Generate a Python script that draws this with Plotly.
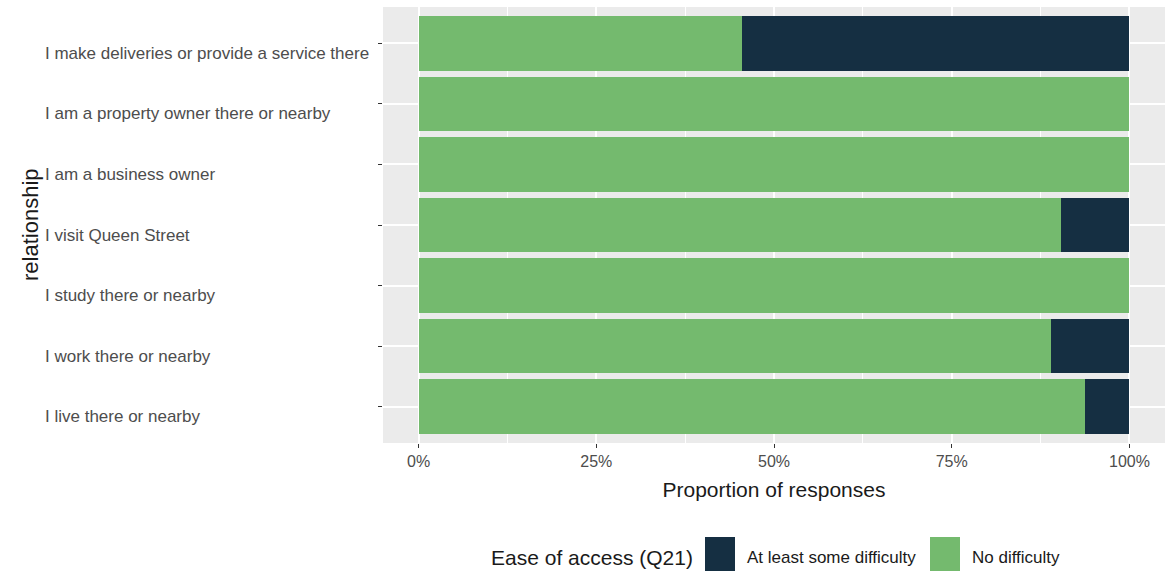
import plotly.graph_objects as go

categories = [
    "I live there or nearby",
    "I work there or nearby",
    "I study there or nearby",
    "I visit Queen Street",
    "I am a business owner",
    "I am a property owner there or nearby",
    "I make deliveries or provide a service there",
]
no_difficulty = [0.938, 0.889, 1.0, 0.903, 1.0, 1.0, 0.455]
some_difficulty = [0.062, 0.111, 0.0, 0.097, 0.0, 0.0, 0.545]
x_ticks = [0, 0.25, 0.5, 0.75, 1.0]
x_tick_labels = ["0%", "25%", "50%", "75%", "100%"]
legend_title = "Ease of access (Q21)"
series_names = ["At least some difficulty", "No difficulty"]

GREEN = "#74BA6E"
NAVY = "#152F42"
FONT = "Liberation Sans, Arial, sans-serif"

fig = go.Figure()
fig.add_trace(go.Bar(y=categories, x=no_difficulty, orientation="h", name=series_names[1],
                     marker=dict(color=GREEN, line=dict(width=0)), width=0.9, showlegend=False))
fig.add_trace(go.Bar(y=categories, x=some_difficulty, orientation="h", name=series_names[0],
                     marker=dict(color=NAVY, line=dict(width=0)), width=0.9, showlegend=False))

W, H = 1174, 571
L, R, T, B = 383, 9, 7, 128
pw = W - L - R
ph = H - T - B

def px2paper_x(px):
    return (px - L) / pw

def py2paper_y(py):
    return (H - B - py) / ph

annotations = []
for c in categories:
    annotations.append(dict(text=c, xref="paper", yref="y", x=px2paper_x(43), y=c,
                            xanchor="left", yanchor="middle", yshift=-10, showarrow=False,
                            font=dict(family=FONT, size=17, color="#4D4D4D")))
annotations.append(dict(text="relationship", xref="paper", yref="paper", x=px2paper_x(30), y=0.5,
                        xanchor="center", yanchor="middle", textangle=-90, showarrow=False,
                        font=dict(family=FONT, size=22, color="#1A1A1A")))

# legend (manual)
ly = py2paper_y(557)
annotations.append(dict(text=legend_title, xref="paper", yref="paper", x=px2paper_x(489), y=ly,
                        xanchor="left", yanchor="middle", showarrow=False,
                        font=dict(family=FONT, size=21, color="#1A1A1A")))
annotations.append(dict(text=series_names[0], xref="paper", yref="paper", x=px2paper_x(745), y=ly,
                        xanchor="left", yanchor="middle", showarrow=False,
                        font=dict(family=FONT, size=17, color="#1A1A1A")))
annotations.append(dict(text=series_names[1], xref="paper", yref="paper", x=px2paper_x(970), y=ly,
                        xanchor="left", yanchor="middle", showarrow=False,
                        font=dict(family=FONT, size=17, color="#1A1A1A")))
shapes = [
    dict(type="rect", xref="paper", yref="paper", x0=px2paper_x(705), x1=px2paper_x(735),
         y0=py2paper_y(571), y1=py2paper_y(537), fillcolor=NAVY, line=dict(width=0)),
    dict(type="rect", xref="paper", yref="paper", x0=px2paper_x(930), x1=px2paper_x(960),
         y0=py2paper_y(571), y1=py2paper_y(537), fillcolor=GREEN, line=dict(width=0)),
]

fig.update_layout(
    width=W, height=H,
    margin=dict(l=L, r=R, t=T, b=B, pad=0),
    barmode="stack",
    bargap=0.1,
    plot_bgcolor="#EBEBEB",
    paper_bgcolor="white",
    font=dict(family=FONT, color="#4D4D4D"),
    showlegend=False,
    annotations=annotations,
    shapes=shapes,
    xaxis=dict(range=[-0.05, 1.05], tickvals=x_ticks, ticktext=x_tick_labels,
               tickfont=dict(family=FONT, size=16, color="#4D4D4D"),
               ticks="outside", ticklen=4, tickcolor="#333333", tickwidth=1,
               showgrid=True, gridcolor="white", gridwidth=1.6,
               minor=dict(tickvals=[0.125, 0.375, 0.625, 0.875], showgrid=True, gridcolor="white", gridwidth=0.8),
               zeroline=False, showline=False,
               title=dict(text="Proportion of responses", font=dict(family=FONT, size=21, color="#1A1A1A"), standoff=13)),
    yaxis=dict(range=[-0.6, 6.6], categoryorder="array", categoryarray=categories,
               showticklabels=False, ticks="outside", ticklen=4, tickcolor="#333333", tickwidth=1,
               showgrid=True, gridcolor="white", gridwidth=1.6, zeroline=False, showline=False),
)

fig.write_html("out.html", config={"displayModeBar": False},
               post_script="document.body.style.margin='0';document.body.style.overflow='hidden';")
